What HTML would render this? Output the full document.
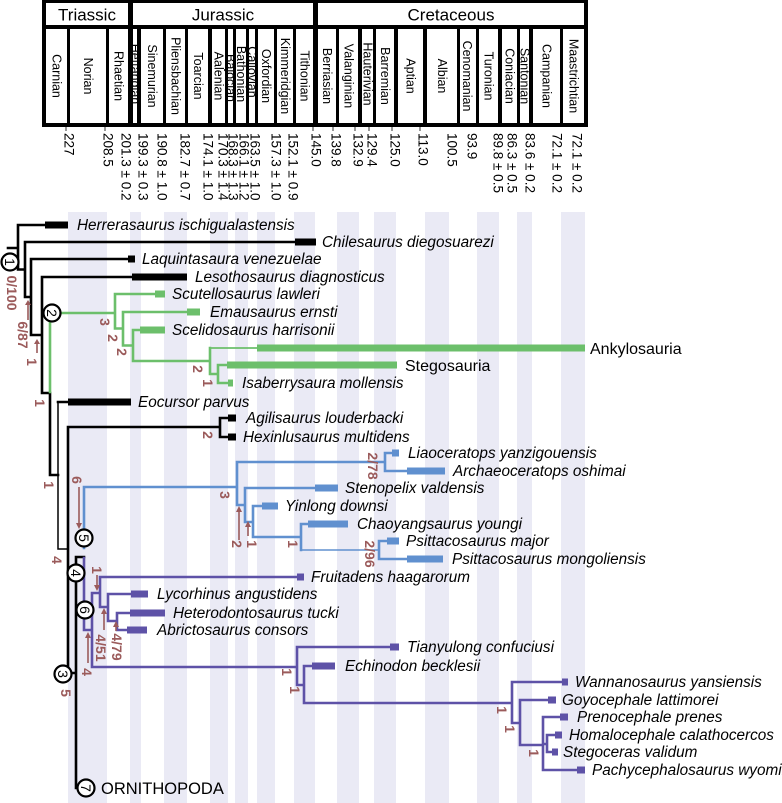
<!DOCTYPE html>
<html><head><meta charset="utf-8"><style>
html,body{margin:0;padding:0;background:#fff;}
svg{display:block;}
text{font-family:"Liberation Sans",sans-serif;}
.st{font-size:12.5px;fill:#000;}
.tk{font-size:13.5px;fill:#000;}
.tx{font-size:15.3px;font-style:italic;fill:#000;}
.up{font-size:16px;fill:#000;}
.br{font-size:14px;font-weight:bold;fill:#9b5b5b;}
.cn{font-size:14px;fill:#000;}
</style></head><body>
<svg width="782" height="803" viewBox="0 0 782 803" xmlns="http://www.w3.org/2000/svg">
<!-- background stripes -->
<g fill="#eaeaf5">
<rect x="68" y="212" width="39" height="591"/>
<rect x="130" y="212" width="11" height="591"/>
<rect x="164" y="212" width="23" height="591"/>
<rect x="210" y="212" width="18" height="591"/>
<rect x="235" y="212" width="13" height="591"/>
<rect x="257" y="212" width="18" height="591"/>
<rect x="294" y="212" width="21" height="591"/>
<rect x="337" y="212" width="22" height="591"/>
<rect x="374" y="212" width="22" height="591"/>
<rect x="425" y="212" width="24" height="591"/>
<rect x="477" y="212" width="22" height="591"/>
<rect x="517" y="212" width="15" height="591"/>
<rect x="561" y="212" width="24" height="591"/>
</g>

<!-- header -->
<rect x="42" y="-2" width="546" height="129" fill="#000"/>
<g fill="#fff">
<rect x="46" y="3" width="82" height="22"/>
<rect x="133" y="3" width="180" height="22"/>
<rect x="318" y="3" width="266" height="22"/>
<rect x="46" y="29" width="21" height="94"/>
<rect x="70" y="29" width="36" height="94"/>
<rect x="109" y="29" width="19" height="94"/>
<rect x="133" y="29" width="4" height="94"/>
<rect x="141" y="29" width="22" height="94"/>
<rect x="166" y="29" width="19" height="94"/>
<rect x="188" y="29" width="20" height="94"/>
<rect x="212" y="29" width="13" height="94"/>
<rect x="228" y="29" width="5" height="94"/>
<rect x="236" y="29" width="10" height="94"/>
<rect x="249" y="29" width="6" height="94"/>
<rect x="258" y="29" width="16" height="94"/>
<rect x="277" y="29" width="16" height="94"/>
<rect x="296" y="29" width="17" height="94"/>
<rect x="318" y="29" width="18" height="94"/>
<rect x="339" y="29" width="19" height="94"/>
<rect x="362" y="29" width="11" height="94"/>
<rect x="376" y="29" width="18" height="94"/>
<rect x="398" y="29" width="25" height="94"/>
<rect x="427" y="29" width="30" height="94"/>
<rect x="460" y="29" width="16" height="94"/>
<rect x="479" y="29" width="19" height="94"/>
<rect x="502" y="29" width="15" height="94"/>
<rect x="520" y="29" width="9" height="94"/>
<rect x="533" y="29" width="27" height="94"/>
<rect x="563" y="29" width="21" height="94"/>
</g>
<g font-size="17" text-anchor="middle" fill="#000">
<text x="87" y="20.5">Triassic</text>
<text x="223" y="20.5">Jurassic</text>
<text x="451" y="20.5">Cretaceous</text>
</g>
<g class="st" text-anchor="middle" dominant-baseline="central">
<text transform="translate(56.5,76) rotate(90)">Carnian</text>
<text transform="translate(88,76) rotate(90)">Norian</text>
<text transform="translate(118.5,76) rotate(90)">Rhaetian</text>
<text transform="translate(135,74) rotate(90)">Hettangian</text>
<text transform="translate(152,76) rotate(90)">Sinemurian</text>
<text transform="translate(175.5,76) rotate(90)">Pliensbachian</text>
<text transform="translate(198,76) rotate(90)">Toarcian</text>
<text transform="translate(218.5,76) rotate(90)">Aalenian</text>
<text transform="translate(230.5,78) rotate(90)">Bajocian</text>
<text transform="translate(241,74) rotate(90)">Bathonian</text>
<text transform="translate(252,72) rotate(90)">Callovian</text>
<text transform="translate(266,76) rotate(90)">Oxfordian</text>
<text transform="translate(285,76) rotate(90)">Kimmeridgian</text>
<text transform="translate(304.5,76) rotate(90)">Tithonian</text>
<text transform="translate(327,76) rotate(90)">Berriasian</text>
<text transform="translate(348.5,76) rotate(90)">Valanginian</text>
<text transform="translate(367.5,74) rotate(90)">Hauterivian</text>
<text transform="translate(385,76) rotate(90)">Barremian</text>
<text transform="translate(410.5,76) rotate(90)">Aptian</text>
<text transform="translate(442,76) rotate(90)">Albian</text>
<text transform="translate(467,76) rotate(90)">Cenomanian</text>
<text transform="translate(488.5,76) rotate(90)">Turonian</text>
<text transform="translate(509.5,76) rotate(90)">Coniacian</text>
<text transform="translate(524.5,76) rotate(90)">Santonian</text>
<text transform="translate(546.5,76) rotate(90)">Campanian</text>
<text transform="translate(573.5,76) rotate(90)">Maastrichtian</text>
</g>

<!-- tick marks -->
<g stroke="#333" stroke-width="1">
<line x1="66" y1="127" x2="66" y2="131"/>
<line x1="105" y1="127" x2="105" y2="131"/>
<line x1="313" y1="127" x2="313" y2="131"/>
<line x1="333" y1="127" x2="333" y2="131"/>
<line x1="355" y1="127" x2="355" y2="131"/>
<line x1="369" y1="127" x2="369" y2="131"/>
<line x1="392" y1="127" x2="392" y2="131"/>
<line x1="420" y1="127" x2="420" y2="131"/>
</g>
<g class="tk" dominant-baseline="central">
<text transform="translate(69,133) rotate(90)">227</text>
<text transform="translate(108,133) rotate(90)">208.5</text>
<text transform="translate(126,133) rotate(90)">201.3 ± 0.2</text>
<text transform="translate(143,133) rotate(90)">199.3 ± 0.3</text>
<text transform="translate(162,133) rotate(90)">190.8 ± 1.0</text>
<text transform="translate(185,133) rotate(90)">182.7 ± 0.7</text>
<text transform="translate(208,133) rotate(90)">174.1 ± 1.0</text>
<text transform="translate(223,133) rotate(90)">170.3 ± 1.4</text>
<text transform="translate(233,133) rotate(90)">168.3 ± 1.3</text>
<text transform="translate(244,133) rotate(90)">166.1 ± 1.2</text>
<text transform="translate(255,133) rotate(90)">163.5 ± 1.0</text>
<text transform="translate(276,133) rotate(90)">157.3 ± 1.0</text>
<text transform="translate(293,133) rotate(90)">152.1 ± 0.9</text>
<text transform="translate(316,133) rotate(90)">145.0</text>
<text transform="translate(336,133) rotate(90)">139.8</text>
<text transform="translate(358,133) rotate(90)">132.9</text>
<text transform="translate(372,133) rotate(90)">129.4</text>
<text transform="translate(395,133) rotate(90)">125.0</text>
<text transform="translate(423,133) rotate(90)">113.0</text>
<text transform="translate(452,133) rotate(90)">100.5</text>
<text transform="translate(472,133) rotate(90)">93.9</text>
<text transform="translate(498,133) rotate(90)">89.8 ± 0.5</text>
<text transform="translate(512,133) rotate(90)">86.3 ± 0.5</text>
<text transform="translate(530,133) rotate(90)">83.6 ± 0.2</text>
<text transform="translate(557,133) rotate(90)">72.1 ± 0.2</text>
<text transform="translate(577,133) rotate(90)">72.1 ± 0.2</text>
</g>

<!-- ============ TREE ============ -->
<!-- black -->
<g stroke="#000" stroke-width="2.6" fill="none" stroke-linecap="square">
<path d="M8,248 H18 M18,225 V269.5 M18,225 H45 M18,269.5 H25 M25,242 V297 M25,242 H295 M25,297 H31 M31,259 V335 M31,259 H128 M31,335 H42 M42,277 V393 M42,277 H132 M42,393 H50 M50,393 V475 M50,475 H58 M58,402 H68 M68,427 V673 M68,427 H220 M220,418 V437 M220,418 H228 M220,437 H228 M68,673 H76 M76,557 V788 M76,557 H84 M76,788 H86"/>
</g>
<g stroke="#000" stroke-width="1.5" fill="none">
<path d="M58,402 V549 H68"/>
</g>
<g fill="#000">
<rect x="45" y="221.5" width="23" height="7"/>
<rect x="295" y="238.5" width="21" height="7"/>
<rect x="128" y="255.5" width="7" height="7"/>
<rect x="132" y="273.5" width="55" height="7"/>
<rect x="68" y="398.5" width="63" height="7"/>
<rect x="228" y="414.5" width="8" height="7"/>
<rect x="228" y="433.5" width="8" height="7"/>
</g>

<!-- green -->
<g stroke="#6cbf6b" stroke-width="2.6" fill="none" stroke-linecap="square">
<path d="M50,313 V392 M50,313 H115 M115,294 V328.5 M115,294 H155 M115,328.5 H123 M123,312 V345.5 M123,312 H187 M123,345.5 H133 M133,330 V361 M133,330 H140 M133,361 H210 M210,348 V374 M210,374 H218 M218,365 V383 M218,365 H227 M218,383 H228"/>
</g>
<g stroke="#6cbf6b" stroke-width="1.8" fill="none"><path d="M210,348 H257"/></g>
<g fill="#6cbf6b">
<rect x="155" y="290.5" width="10" height="7"/>
<rect x="187" y="308.5" width="13" height="7"/>
<rect x="140" y="326.5" width="25" height="7"/>
<rect x="257" y="344.5" width="328" height="7"/>
<rect x="227" y="361.5" width="170" height="7"/>
<rect x="228" y="379.5" width="5" height="7"/>
</g>

<!-- blue -->
<g stroke="#6090cf" stroke-width="2.6" fill="none" stroke-linecap="square">
<path d="M84,487 V548 M84,487 H237 M237,462 V505 M237,462 H385 M385,453 V471 M385,453 H392 M385,471 H407 M237,505 H245 M245,488 V522 M245,488 H315 M245,522 H253 M253,506 V537 M253,506 H262 M253,537 H301 M301,524 V550 M301,524 H308 M379,541 V559 M379,541 H387 M379,559 H407"/>
</g>
<g stroke="#6090cf" stroke-width="1.6" fill="none"><path d="M301,550 H379"/></g>
<g fill="#6090cf">
<rect x="392" y="449.5" width="7" height="7"/>
<rect x="407" y="467.5" width="38" height="7"/>
<rect x="315" y="484.5" width="23" height="7"/>
<rect x="262" y="502.5" width="16" height="7"/>
<rect x="308" y="520.5" width="40" height="7"/>
<rect x="387" y="537.5" width="12" height="7"/>
<rect x="407" y="555.5" width="36" height="7"/>
</g>

<!-- purple -->
<g stroke="#5e52a7" stroke-width="2.6" fill="none" stroke-linecap="square">
<path d="M84,558 V630 M84,630 H92 M92,593 V667 M92,593 H100 M100,577 V607 M100,577 H297 M100,607 H108 M108,594 V621 M108,594 H131 M108,621 H117 M117,613 V630 M117,613 H130 M117,630 H127 M92,667 H297 M297,647 V685 M297,647 H390 M297,685 H304 M304,666 V703 M304,666 H312 M304,703 H512 M512,682 V723 M512,682 H562 M512,723 H520 M520,700 V745 M520,700 H548 M520,745 H543 M543,717 V770 M543,717 H560 M543,744 H547 M547,735 V752 M547,735 H555 M547,752 H552 M543,770 H577"/>
</g>
<g fill="#5e52a7">
<rect x="297" y="573.5" width="7" height="7"/>
<rect x="131" y="590.5" width="17" height="7"/>
<rect x="130" y="609.5" width="35" height="7"/>
<rect x="127" y="626.5" width="20" height="7"/>
<rect x="390" y="643.5" width="9" height="7"/>
<rect x="312" y="662.5" width="23" height="7"/>
<rect x="562" y="678.5" width="6" height="7"/>
<rect x="548" y="696.5" width="8" height="7"/>
<rect x="560" y="713.5" width="8" height="7"/>
<rect x="555" y="731.5" width="7" height="7"/>
<rect x="552" y="748.5" width="6" height="7"/>
<rect x="577" y="766.5" width="8" height="7"/>
</g>

<!-- circles -->
<g fill="#fff" stroke="#000" stroke-width="2.2">
<circle cx="10" cy="262" r="8.5"/>
<circle cx="52" cy="313" r="8.5"/>
<circle cx="84" cy="538" r="8.5"/>
<circle cx="76" cy="573" r="8.5"/>
<circle cx="85" cy="610" r="8.5"/>
<circle cx="63" cy="674" r="8.5"/>
<circle cx="86" cy="788" r="8.5"/>
</g>
<g class="cn" text-anchor="middle" dominant-baseline="central">
<text transform="translate(10,262) rotate(90)">1</text>
<text transform="translate(52,313) rotate(90)">2</text>
<text transform="translate(84,538) rotate(90)">5</text>
<text transform="translate(76,573) rotate(90)">4</text>
<text transform="translate(85,610) rotate(90)">6</text>
<text transform="translate(63,674) rotate(90)">3</text>
<text transform="translate(86,788) rotate(90)">7</text>
</g>

<!-- taxon labels -->
<g class="tx">
<text x="77" y="230">Herrerasaurus ischigualastensis</text>
<text x="322" y="247">Chilesaurus diegosuarezi</text>
<text x="142" y="264">Laquintasaura venezuelae</text>
<text x="195" y="282">Lesothosaurus diagnosticus</text>
<text x="172" y="299">Scutellosaurus lawleri</text>
<text x="210" y="317">Emausaurus ernsti</text>
<text x="172" y="335">Scelidosaurus harrisonii</text>
<text x="242" y="388">Isaberrysaura mollensis</text>
<text x="138" y="407">Eocursor parvus</text>
<text x="246" y="423">Agilisaurus louderbacki</text>
<text x="243" y="442">Hexinlusaurus multidens</text>
<text x="408" y="458">Liaoceratops yanzigouensis</text>
<text x="453" y="476">Archaeoceratops oshimai</text>
<text x="345" y="493">Stenopelix valdensis</text>
<text x="285" y="511">Yinlong downsi</text>
<text x="357" y="529">Chaoyangsaurus youngi</text>
<text x="406" y="546">Psittacosaurus major</text>
<text x="452" y="564">Psittacosaurus mongoliensis</text>
<text x="311" y="582">Fruitadens haagarorum</text>
<text x="157" y="599">Lycorhinus angustidens</text>
<text x="173" y="618">Heterodontosaurus tucki</text>
<text x="157" y="635">Abrictosaurus consors</text>
<text x="407" y="652">Tianyulong confuciusi</text>
<text x="345" y="671">Echinodon becklesii</text>
<text x="575" y="687">Wannanosaurus yansiensis</text>
<text x="562" y="705">Goyocephale lattimorei</text>
<text x="577" y="722">Prenocephale prenes</text>
<text x="569" y="740">Homalocephale calathocercos</text>
<text x="563" y="757">Stegoceras validum</text>
<text x="592" y="775">Pachycephalosaurus wyomingensis</text>
</g>
<g class="up">
<text x="590" y="354">Ankylosauria</text>
<text x="405" y="371">Stegosauria</text>
<text x="101" y="794" font-size="16.5">ORNITHOPODA</text>
</g>

<!-- brown annotations -->
<g class="br" text-anchor="middle" dominant-baseline="central">
<text transform="translate(12,293) rotate(90)">0/100</text>
<text transform="translate(23,335) rotate(90)">6/87</text>
<text transform="translate(32,362) rotate(90)">1</text>
<text transform="translate(40,403) rotate(90)">1</text>
<text transform="translate(105,322) rotate(90)">3</text>
<text transform="translate(113,338) rotate(90)">2</text>
<text transform="translate(122,352) rotate(90)">2</text>
<text transform="translate(198,369) rotate(90)">2</text>
<text transform="translate(208,383) rotate(90)">1</text>
<text transform="translate(49,485) rotate(90)">1</text>
<text transform="translate(208,435) rotate(90)">2</text>
<text transform="translate(77,480) rotate(90)">6</text>
<text transform="translate(57,560) rotate(90)">4</text>
<text transform="translate(225,495) rotate(90)">3</text>
<text transform="translate(237,544) rotate(90)">2</text>
<text transform="translate(252,544) rotate(90)">1</text>
<text transform="translate(293,544) rotate(90)">1</text>
<text transform="translate(373,466) rotate(90)">2/78</text>
<text transform="translate(370,554) rotate(90)">2/96</text>
<text transform="translate(97,570) rotate(90)">1</text>
<text transform="translate(101,648) rotate(90)">4/51</text>
<text transform="translate(117,647) rotate(90)">4/79</text>
<text transform="translate(87,672) rotate(90)">4</text>
<text transform="translate(66,693) rotate(90)">5</text>
<text transform="translate(287,672) rotate(90)">1</text>
<text transform="translate(295,690) rotate(90)">1</text>
<text transform="translate(502,710) rotate(90)">1</text>
<text transform="translate(510,729) rotate(90)">1</text>
<text transform="translate(534,753) rotate(90)">1</text>
</g>
<g stroke="#9b5b5b" stroke-width="1.6" fill="none">
<path d="M28,320 V304 M37,353 V343 M79,487 V524 M239,540 V511 M248,536 V526 M97,575 V586 M104,630 V613 M116,631 V626 M88,663 V637"/>
</g>
<g fill="#9b5b5b">
<polygon points="25,305 31,305 28,300"/>
<polygon points="34,344 40,344 37,339"/>
<polygon points="76,523 82,523 79,529"/>
<polygon points="236,512 242,512 239,506"/>
<polygon points="245,527 251,527 248,521"/>
<polygon points="94,585 100,585 97,591"/>
<polygon points="101,614 107,614 104,608"/>
<polygon points="113,627 119,627 116,621"/>
<polygon points="85,638 91,638 88,632"/>
</g>
</svg>
</body></html>
